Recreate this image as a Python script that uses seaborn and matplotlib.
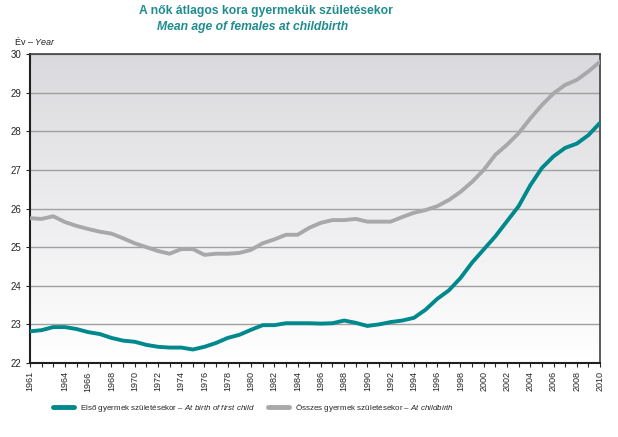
import numpy as np
import pandas as pd
import matplotlib
matplotlib.use("Agg")
import matplotlib.pyplot as plt
import seaborn as sns

years = list(range(1961, 2011))
first_child = [22.82, 22.85, 22.93, 22.93, 22.88, 22.80, 22.75, 22.65, 22.58, 22.55,
               22.47, 22.42, 22.40, 22.40, 22.35, 22.42, 22.52, 22.65, 22.73, 22.86,
               22.98, 22.98, 23.03, 23.03, 23.03, 23.02, 23.03, 23.10, 23.04, 22.96,
               23.00, 23.06, 23.10, 23.17, 23.38, 23.66, 23.88, 24.20, 24.60, 24.94,
               25.28, 25.67, 26.06, 26.60, 27.05, 27.35, 27.57, 27.68, 27.90, 28.22]
all_children = [25.75, 25.73, 25.80, 25.65, 25.55, 25.47, 25.40, 25.35, 25.23, 25.10,
                25.00, 24.90, 24.83, 24.95, 24.95, 24.80, 24.83, 24.83, 24.85, 24.93,
                25.10, 25.20, 25.32, 25.32, 25.50, 25.63, 25.70, 25.70, 25.73, 25.66,
                25.66, 25.66, 25.78, 25.89, 25.96, 26.06, 26.22, 26.43, 26.69, 27.00,
                27.39, 27.65, 27.95, 28.33, 28.68, 28.98, 29.20, 29.33, 29.55, 29.80]
label_first = "Első gyermek születésekor – $\\it{At\\ birth\\ of\\ first\\ child}$"
label_all = "Összes gyermek születésekor – $\\it{At\\ childbirth}$"
xtick_years = [1961] + list(range(1964, 2011, 2))
yticks = [22, 23, 24, 25, 26, 27, 28, 29, 30]

sns.set_style("white")
fam = ["Liberation Sans", "DejaVu Sans"]
plt.rcParams["font.family"] = fam
plt.rcParams["mathtext.fontset"] = "custom"
plt.rcParams["mathtext.it"] = "Liberation Sans:italic"
plt.rcParams["mathtext.rm"] = "Liberation Sans"
plt.rcParams["mathtext.bf"] = "Liberation Sans:bold"

df = pd.DataFrame({
    "year": years * 2,
    "age": first_child + all_children,
    "series": [label_first] * len(years) + [label_all] * len(years),
})

teal = "#00898c"
grey = "#a8a8aa"

fig = plt.figure(figsize=(6.18, 4.37), dpi=100)
ax = fig.add_axes([0.0485, 0.1693, 0.9225, 0.7071])

grad = np.linspace(0, 1, 256).reshape(-1, 1)
top = np.array([218, 218, 222]) / 255.0
bot = np.array([255, 255, 255]) / 255.0
img = top[None, None, :] * (1 - grad[:, :, None]) + bot[None, None, :] * grad[:, :, None]
ax.imshow(img, extent=[0, 1, 0, 1], transform=ax.transAxes, aspect="auto", zorder=0)

sns.lineplot(data=df, x="year", y="age", hue="series",
             palette={label_first: teal, label_all: grey}, linewidth=2.8, ax=ax, zorder=3)

ax.set_xlim(1961, 2010)
ax.set_ylim(22, 30)
ax.set_yticks(yticks)
ax.set_yticklabels([str(v) for v in yticks], fontsize=7)
ax.set_xticks(xtick_years)
ax.set_xticklabels([str(y) for y in xtick_years], rotation=90, fontsize=6.5)
ax.set_xticks(years, minor=True)
ax.tick_params(axis="x", which="both", direction="out", length=3, width=0.8, bottom=True, pad=3)
ax.tick_params(axis="y", which="major", direction="out", length=3, width=0.8, left=True, pad=3)
ax.grid(axis="y", color="#a0a0a0", linewidth=1.0, zorder=1)
ax.set_axisbelow(True)
ax.set_xlabel("")
ax.set_ylabel("")
for s in ["left", "bottom"]:
    ax.spines[s].set_color("#202020")
    ax.spines[s].set_linewidth(1.5)
for s in ["top", "right"]:
    ax.spines[s].set_color("#404040")
    ax.spines[s].set_linewidth(1.2)

leg = ax.legend(loc="center", bbox_to_anchor=(0.41, 0.066), bbox_transform=fig.transFigure,
                ncol=2, frameon=False, fontsize=5.8, handlelength=2.6, columnspacing=1.6,
                handletextpad=0.8)
for line in leg.get_lines():
    line.set_linewidth(3.5)

fig.text(0.43, 0.975, "A nők átlagos kora gyermekük születésekor", ha="center", va="center",
         fontsize=8.7, fontweight="bold", color="#1f8c90")
fig.text(0.408, 0.938, "Mean age of females at childbirth", ha="center", va="center",
         fontsize=8.7, fontweight="bold", style="italic", color="#1f8c90")
fig.text(0.022, 0.907, "Év – $\\it{Year}$", ha="left", va="center", fontsize=6.5, color="#202020")

fig.savefig("out.png", dpi=100)
